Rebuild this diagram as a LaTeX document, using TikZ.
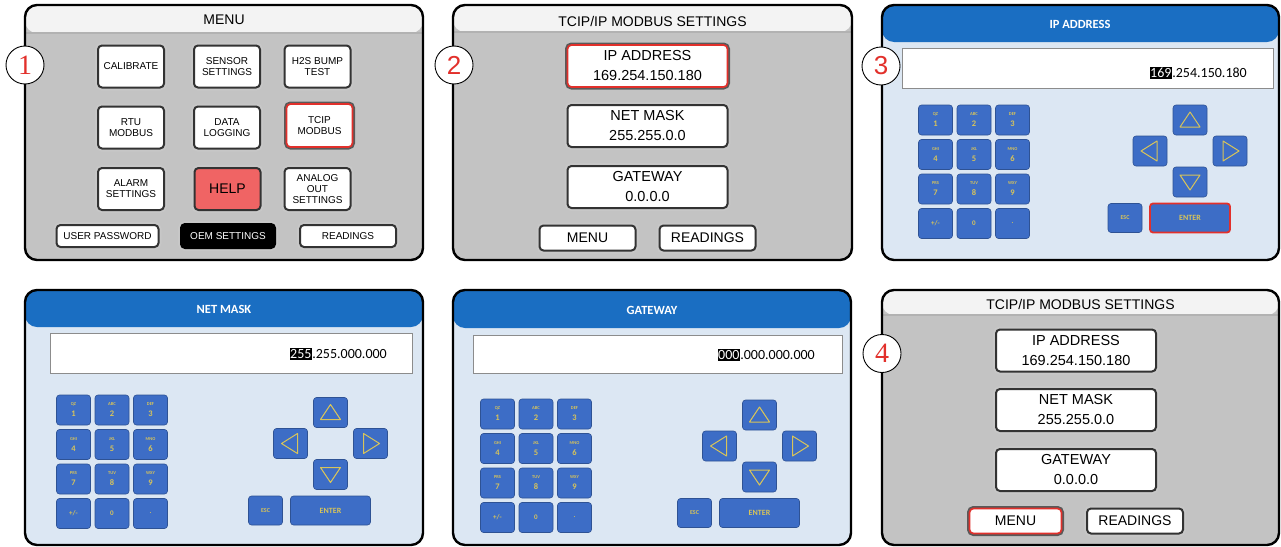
\documentclass[tikz,border=0pt]{standalone}
\usepackage{fontspec}
\newfontfamily\arial{Liberation Sans}
\newfontfamily\calib{Carlito}
\newfontfamily\tnr{Liberation Serif}
\definecolor{panelgray}{HTML}{C3C3C3}
\definecolor{stripgray}{HTML}{F3F3F3}
\definecolor{barblue}{HTML}{1A6EC2}
\definecolor{lightblue}{HTML}{DCE7F3}
\definecolor{keyblue}{HTML}{3D6DC6}
\definecolor{keytext}{HTML}{D8C45A}
\definecolor{hired}{HTML}{E2302B}
\definecolor{helpred}{HTML}{F06464}
\newcommand{\klab}[2]{{\fontsize{4.5}{5}\selectfont #1}\\[-1pt]{\fontsize{8.5}{9}\selectfont #2}}
\newcommand{\keypad}[3]{%
\begin{scope}[shift={(#2,#3)}]
\node[key] (#1k1) at (0,0) {\klab{QZ}{1}};
\node[key] (#1k2) at (38.5,0) {\klab{ABC}{2}};
\node[key] (#1k3) at (77,0) {\klab{DEF}{3}};
\node[key] (#1k4) at (0,34.5) {\klab{GHI}{4}};
\node[key] (#1k5) at (38.5,34.5) {\klab{JKL}{5}};
\node[key] (#1k6) at (77,34.5) {\klab{MNO}{6}};
\node[key] (#1k7) at (0,69) {\klab{PRS}{7}};
\node[key] (#1k8) at (38.5,69) {\klab{TUV}{8}};
\node[key] (#1k9) at (77,69) {\klab{WXY}{9}};
\node[key, font=\calib\bfseries\fontsize{7}{8}\selectfont] (#1kpm) at (0,103.5) {+/-};
\node[key, font=\calib\bfseries\fontsize{7}{8}\selectfont] (#1k0) at (38.5,103.5) {0};
\node[key, font=\calib\bfseries\fontsize{7}{8}\selectfont] (#1kdot) at (77,103.5) {.};
\end{scope}}
\newcommand{\navpad}[4]{%
\begin{scope}[shift={(#2,#3)}]
\node[key] (#1up) at (0,-31) {};
\node[key] (#1dn) at (0,31) {};
\node[key] (#1lt) at (-40,0) {};
\node[key] (#1rt) at (40,0) {};
\node[key, minimum height=29pt, font=\calib\bfseries\fontsize{6}{6}\selectfont] (#1esc) at (-65,67) {ESC};
\node[key, minimum width=80pt, minimum height=29pt, font=\calib\bfseries\fontsize{8}{8}\selectfont, #4] (#1ent) at (0,67) {ENTER};
\end{scope}
\draw[tri, shift={(#1up.center)}] (0,-8) -- (10,7) -- (-10,7) -- cycle;
\draw[tri, shift={(#1dn.center)}] (0,8) -- (10,-7) -- (-10,-7) -- cycle;
\draw[tri, shift={(#1lt.center)}] (-9,0) -- (7,-10) -- (7,10) -- cycle;
\draw[tri, shift={(#1rt.center)}] (9,0) -- (-7,-10) -- (-7,10) -- cycle;}
\begin{document}
\begin{tikzpicture}[x=1pt,y=-1pt,
  frame/.style={draw=black, line width=2.4pt, rounded corners=12pt, inner sep=0pt, outer sep=0pt, minimum height=255pt},
  grayframe/.style={frame, fill=panelgray, path picture={\fill[stripgray] (path picture bounding box.north west) rectangle ([yshift=-#1]path picture bounding box.north east);
     \draw[black!30] ([yshift=-#1]path picture bounding box.north west) -- ([yshift=-#1]path picture bounding box.north east);}},
  blueframe/.style={frame, fill=lightblue, path picture={\fill[barblue] (path picture bounding box.north west) rectangle ([yshift=-#1]path picture bounding box.north east);}},
  gbtn/.style={draw=black!80, line width=2pt, fill=white, rounded corners=4pt, inner sep=0pt, align=center, font=\arial\fontsize{10}{11}\selectfont, preaction={draw=black!22, line width=6pt}},
  mbtn/.style={gbtn, minimum width=66pt, minimum height=42pt},
  redsel/.style={draw=hired, line width=1.7pt, preaction={draw=black!65, line width=5pt}},
  sbtn/.style={gbtn, minimum width=160pt, minimum height=42pt, font=\arial\fontsize{14.5}{20}\selectfont},
  tbtn/.style={gbtn, minimum width=96pt, minimum height=25pt, font=\arial\fontsize{14}{16}\selectfont},
  key/.style={fill=keyblue, draw=keyblue!75!black, line width=0.6pt, rounded corners=3pt, minimum width=34pt, minimum height=30pt, inner sep=0pt, align=center, text=keytext, font=\calib\bfseries},
  tri/.style={draw=keytext, line width=1pt, line join=round},
  entry/.style={draw=black!45, line width=0.8pt, fill=white, inner sep=0pt},
  val/.style={font=\calib\fontsize{14}{14}\selectfont, inner xsep=0pt, inner ysep=1pt},
  hl/.style={val, fill=black, text=white, inner xsep=0.5pt},
  gtitle/.style={font=\arial\fontsize{14}{14}\selectfont},
  btitle/.style={font=\calib\bfseries\fontsize{12.5}{12.5}\selectfont, text=white},
  num/.style={circle, draw=black, line width=0.9pt, fill=white, minimum size=38pt, inner sep=0pt, text=hired, font=\tnr\fontsize{28}{28}\selectfont}
]
\useasboundingbox (0,0) rectangle (1281,546);
\fill[white] (0,0) rectangle (1281,546);

% ---------- Panel 1 : MENU ----------
\node[grayframe=28pt, minimum width=398pt] (f1) at (224,132.5) {};
\node[gtitle] (t1) at (224,20) {MENU};
\node[mbtn] (cal) at (131,66.5) {CALIBRATE};
\node[mbtn] (sens) at (227,66.5) {SENSOR\\SETTINGS};
\node[mbtn] (h2s) at (317.5,66.5) {H2S BUMP\\TEST};
\node[mbtn] (rtu) at (131,127.5) {RTU\\MODBUS};
\node[mbtn] (dlog) at (227,127.5) {DATA\\LOGGING};
\node[mbtn, redsel, minimum height=43pt] (tcip) at (319.5,125.5) {TCIP\\MODBUS};
\node[mbtn] (alarm) at (131,189) {ALARM\\SETTINGS};
\node[mbtn, fill=helpred, font=\arial\fontsize{14}{14}\selectfont] (help) at (227.5,189) {HELP};
\node[mbtn] (aout) at (317.5,189) {ANALOG\\OUT\\SETTINGS};
\node[gbtn, minimum width=102pt, minimum height=22pt] (upw) at (107.5,236) {USER PASSWORD};
\node[gbtn, fill=black, draw=black, text=white, minimum width=94pt, minimum height=24pt] (oem) at (228,236) {OEM SETTINGS};
\node[gbtn, minimum width=96pt, minimum height=22pt] (read1) at (348,236) {READINGS};

% ---------- Panel 2 : TCIP/IP settings ----------
\node[grayframe=27pt, minimum width=399pt] (f2) at (652.5,132.5) {};
\node[gtitle] (t2) at (652.5,21) {TCIP/IP MODBUS SETTINGS};
\node[sbtn, redsel] (ip2) at (647.5,66) {IP ADDRESS\\169.254.150.180};
\node[sbtn] (nm2) at (647.5,126) {NET MASK\\255.255.0.0};
\node[sbtn] (gw2) at (647.5,187) {GATEWAY\\0.0.0.0};
\node[tbtn] (menu2) at (587.5,238) {MENU};
\node[tbtn] (read2) at (707.5,238) {READINGS};

% ---------- Panel 3 : IP ADDRESS ----------
\node[blueframe=37pt, minimum width=397pt] (f3) at (1080.5,132.5) {};
\node[btitle] (t3) at (1080,24) {IP ADDRESS};
\node[entry, minimum width=371pt, minimum height=40pt] (e3) at (1087.5,68) {};
\node[val, anchor=east] (v3) at (1247,73) {.254.150.180};
\node[hl, anchor=east] (h3) at (v3.west) {169};
\keypad{p3}{935.5}{120}
\navpad{p3}{1190}{151}{draw=hired, line width=1.8pt}

% ---------- Panel 4 : NET MASK ----------
\node[blueframe=37pt, minimum width=398pt] (f4) at (224,417.5) {};
\node[btitle] (t4) at (224,309) {NET MASK};
\node[entry, minimum width=362pt, minimum height=40pt] (e4) at (231,353) {};
\node[val, anchor=east] (v4) at (387,354) {.255.000.000};
\node[hl, anchor=east] (h4) at (v4.west) {255};
\keypad{p4}{73.5}{410}
\navpad{p4}{330.5}{443.5}{}

% ---------- Panel 5 : GATEWAY ----------
\node[blueframe=38pt, minimum width=398pt] (f5) at (652,417.5) {};
\node[btitle] (t5) at (652,310) {GATEWAY};
\node[entry, minimum width=369pt, minimum height=38pt] (e5) at (657.5,354) {};
\node[val, anchor=east] (v5) at (815,355) {.000.000.000};
\node[hl, anchor=east] (h5) at (v5.west) {000};
\keypad{p5}{497.5}{414}
\navpad{p5}{759.5}{446}{}

% ---------- Panel 6 : TCIP/IP settings ----------
\node[grayframe=25pt, minimum width=397pt] (f6) at (1080.5,417.5) {};
\node[gtitle] (t6) at (1080.5,304) {TCIP/IP MODBUS SETTINGS};
\node[sbtn] (ip6) at (1076,350.5) {IP ADDRESS\\169.254.150.180};
\node[sbtn] (nm6) at (1076,410) {NET MASK\\255.255.0.0};
\node[sbtn] (gw6) at (1076,470) {GATEWAY\\0.0.0.0};
\node[tbtn, redsel, minimum width=92pt] (menu6) at (1015.5,521) {MENU};
\node[tbtn] (read6) at (1135,521) {READINGS};

% ---------- Step numbers ----------
\node[num] (n1) at (25,65) {1};
\node[num, font=\arial\fontsize{26}{26}\selectfont] (n2) at (454,65) {2};
\node[num, font=\arial\fontsize{26}{26}\selectfont] (n3) at (881,66) {3};
\node[num] (n4) at (882,353.5) {4};
\end{tikzpicture}
\end{document}
